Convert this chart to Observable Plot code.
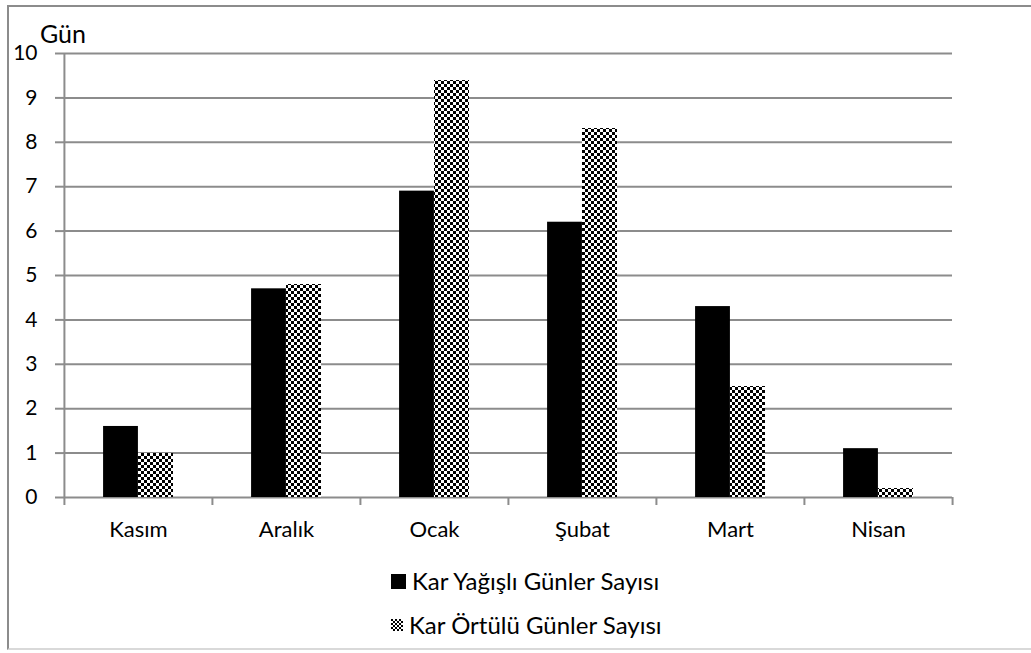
<!DOCTYPE html>
<html>
<head>
<meta charset="utf-8">
<script src="https://cdn.jsdelivr.net/npm/d3@7"></script>
<script src="https://cdn.jsdelivr.net/npm/@observablehq/plot@0.6"></script>
<style>
  html, body { margin: 0; padding: 0; background: #fff; }
  body { width: 1031px; height: 653px; position: relative; overflow: hidden; font-family: Lato, "Open Sans", sans-serif; }
  #frame { position: absolute; left: 7px; top: 5px; width: 1100px; height: 645px;
           border-left: 2px solid #8c8c8c; border-top: 2px solid #8c8c8c; border-bottom: 2px solid #d9d9d9; box-sizing: border-box; }
  #chart { position: absolute; left: 0; top: 0; }
  #chart svg text { font-size: 21px; }
  #chart svg g[aria-label="x-axis tick label"] text { font-size: 22px; }
  #ylabel { position: absolute; left: 40px; top: 21px; font-size: 25px; line-height: 1; color: #000; }
  .leg { position: absolute; left: 391px; display: flex; align-items: center; font-size: 24px; line-height: 1; color: #000; white-space: nowrap; }
  .sw { display: inline-block; margin-right: 6px; }
</style>
</head>
<body>
<div id="frame"></div>
<div id="chart"></div>
<div id="ylabel">Gün</div>
<div class="leg" id="leg1" style="top: 569px;"><span class="sw" style="width:15px;height:15px;background:#000;"></span>Kar Yağışlı Günler Sayısı</div>
<div class="leg" id="leg2" style="top: 613px;"><svg class="sw" width="12" height="12"><defs><pattern id="checkerLeg" width="4" height="4" patternUnits="userSpaceOnUse"><rect width="4" height="4" fill="#fff"/><rect width="2" height="2" fill="#000"/><rect x="2" y="2" width="2" height="2" fill="#000"/></pattern></defs><rect width="12" height="12" fill="url(#checkerLeg)"/></svg>Kar Örtülü Günler Sayısı</div>
<script>
const months = ["Kasım", "Aralık", "Ocak", "Şubat", "Mart", "Nisan"];
const karYagisli = [1.6, 4.7, 6.9, 6.2, 4.3, 1.1];
const karOrtulu = [1.0, 4.8, 9.4, 8.3, 2.5, 0.2];
const yTicks = [0, 1, 2, 3, 4, 5, 6, 7, 8, 9, 10];

const W = 1031, H = 560;
const mL = 63, mR = 79, mT = 53, mB = 63;
const step = (W - mL - mR) / months.length;
const barW = 35;
const gray = "#8c8c8c";

const dataA = months.map((m, i) => ({month: m, value: karYagisli[i]}));
const dataB = months.map((m, i) => ({month: m, value: karOrtulu[i]}));

const chart = Plot.plot({
  width: W, height: H,
  marginLeft: mL, marginRight: mR, marginTop: mT, marginBottom: mB,
  style: {fontFamily: "Lato, 'Open Sans', sans-serif", color: "#000", background: "transparent"},
  x: {domain: months, padding: 0, label: null},
  y: {domain: [0, 10], label: null},
  marks: [
    Plot.ruleY(yTicks, {stroke: gray, strokeWidth: 2}),
    Plot.ruleX([months[0]], {x: d => d, dx: -step / 2, y1: 0, y2: 10, stroke: gray, strokeWidth: 2}),
    Plot.ruleX(months, {x: d => d, dx: -step / 2, y1: 0, y2: -0.18, stroke: gray, strokeWidth: 2}),
    Plot.ruleX([months[months.length - 1]], {x: d => d, dx: step / 2, y1: 0, y2: -0.18, stroke: gray, strokeWidth: 2}),
    Plot.barY(dataA, {x: "month", y: "value", fill: "#000",
      insetLeft: step / 2 - barW, insetRight: step / 2}),
    Plot.barY(dataB, {x: "month", y: "value", fill: "url(#checker)", shapeRendering: "crispEdges",
      insetLeft: step / 2, insetRight: step / 2 - barW}),
    Plot.axisY(yTicks, {tickSize: 8, tickPadding: 18, stroke: gray, strokeWidth: 2, fill: "#000"}),
    Plot.axisX({tickSize: 0, tickPadding: 24, fill: "#000"})
  ]
});

const defs = d3.select(chart).insert("defs", ":first-child");
const pat = defs.append("pattern").attr("id", "checker").attr("width", 6).attr("height", 6)
  .attr("patternUnits", "userSpaceOnUse");
pat.append("rect").attr("width", 6).attr("height", 6).attr("fill", "#fff");
pat.append("rect").attr("width", 3).attr("height", 3).attr("fill", "#000");
pat.append("rect").attr("x", 3).attr("y", 3).attr("width", 3).attr("height", 3).attr("fill", "#000");

document.getElementById("chart").appendChild(chart);
</script>
</body>
</html>
